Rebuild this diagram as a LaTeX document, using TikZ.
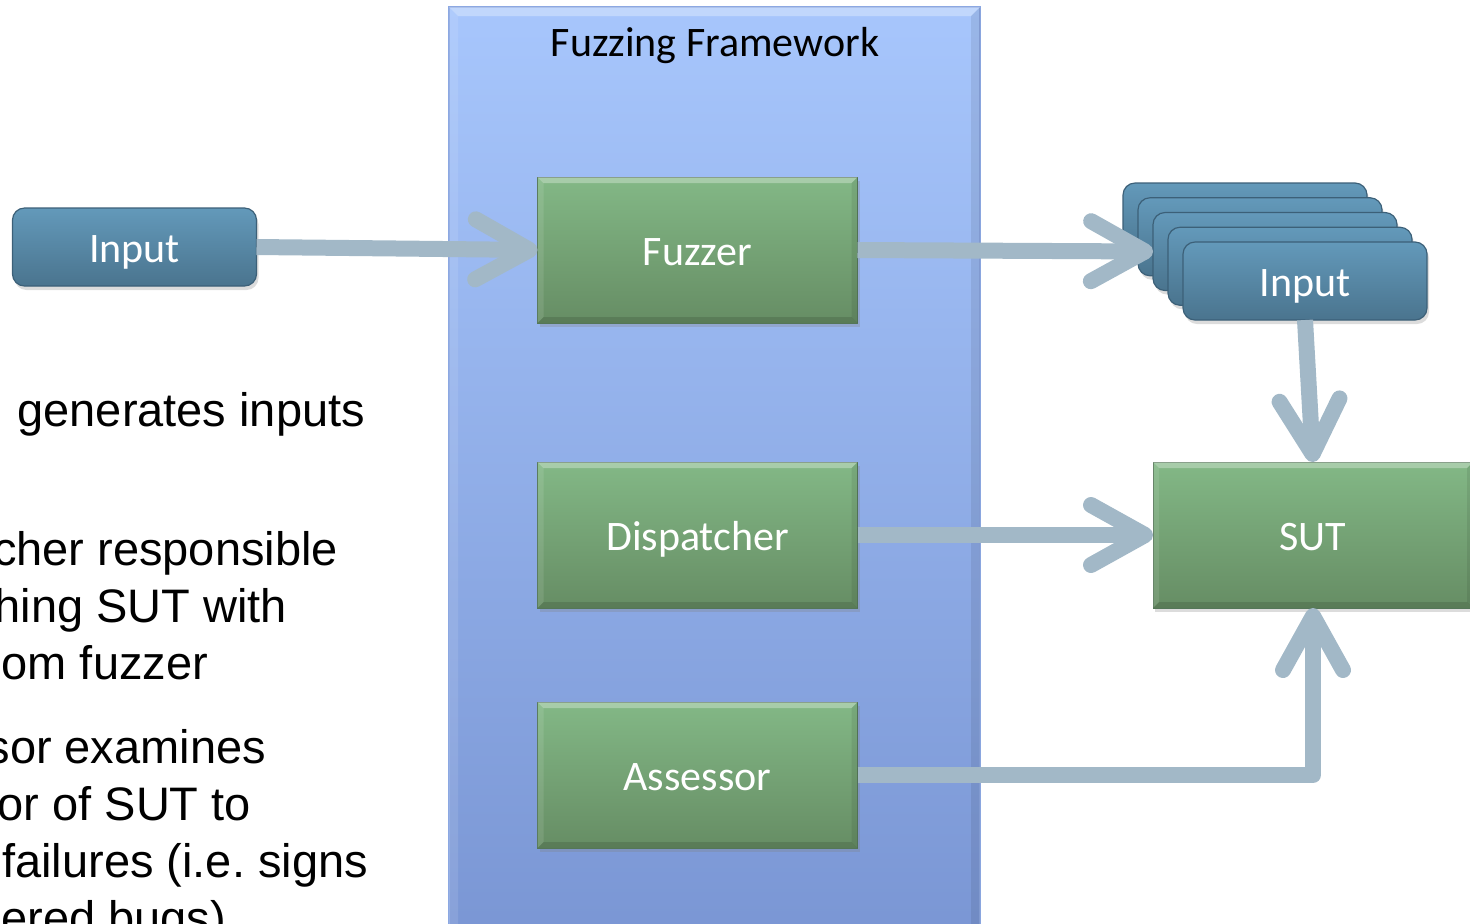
\documentclass[tikz,border=0pt]{standalone}
\usepackage{fontspec}
\setmainfont{Carlito}
\newfontfamily\arialfont{Liberation Sans}
\usetikzlibrary{arrows.meta,calc,shadows}
\frenchspacing

\definecolor{frameTop}{HTML}{A7C6FC}
\definecolor{frameBot}{HTML}{7A96D4}
\definecolor{frameEdge}{HTML}{8CA8E2}
\definecolor{greenTop}{HTML}{83B886}
\definecolor{greenBot}{HTML}{668D64}
\definecolor{greenEdge}{HTML}{56785A}
\definecolor{blueTop}{HTML}{6399BA}
\definecolor{blueBot}{HTML}{4A748E}
\definecolor{blueEdge}{HTML}{3C6078}
\definecolor{arrowc}{HTML}{A2B8C7}

\tikzset{
  every node/.style={inner sep=0pt, outer sep=0pt},
  boxshadow/.style={drop shadow={shadow xshift=1pt, shadow yshift=-2pt, opacity=0.28}},
  labelfont/.style={text=white, font=\fontsize{21}{25}\selectfont,
    text height=15.6pt, text depth=0pt},
  greenbox/.style={boxshadow, minimum width=160pt, minimum height=73pt,
    top color=greenTop, bottom color=greenBot, draw=greenEdge, line width=0.5pt, labelfont},
  bluebox/.style={boxshadow, rounded corners=6pt, minimum width=122pt, minimum height=39pt,
    top color=blueTop, bottom color=blueBot, draw=blueEdge, line width=0.6pt, labelfont},
  framebox/.style={minimum width=265.5pt, minimum height=466.5pt,
    top color=frameTop, bottom color=frameBot, draw=frameEdge, line width=0.6pt},
  flow/.style={draw=arrowc, line width=8pt, line cap=butt, line join=round,
    -{Straight Barb[length=27pt, width=30pt, round]}},
  notes/.style={anchor=base east, font=\arialfont\fontsize{23.5}{28}\selectfont}
}

% bevelled edges: light top/left bands, dark bottom/right bands
\newcommand\bevelbands[2]{%
  \fill[white, opacity=0.30] (#1.north west) -- (#1.north east)
     -- ($(#1.north east)+(-#2,#2)$) -- ($(#1.north west)+(#2,#2)$) -- cycle;
  \fill[white, opacity=0.10] (#1.north west) -- ($(#1.north west)+(#2,#2)$)
     -- ($(#1.south west)+(#2,-#2)$) -- (#1.south west) -- cycle;
  \fill[black, opacity=0.12] (#1.south west) -- (#1.south east)
     -- ($(#1.south east)+(-#2,-#2)$) -- ($(#1.south west)+(#2,-#2)$) -- cycle;
  \fill[black, opacity=0.08] (#1.north east) -- ($(#1.north east)+(-#2,#2)$)
     -- ($(#1.south east)+(-#2,-#2)$) -- (#1.south east) -- cycle;
}

\begin{document}
\begin{tikzpicture}[x=0.5pt, y=-0.5pt]
  \useasboundingbox (0,0) rectangle (1470,923);
  \clip (0,0) rectangle (1470,923);

  % framework container
  \node[framebox] (frame) at (714.5,473.5) {};
  \bevelbands{frame}{9}
  \node[font=\fontsize{21}{25}\selectfont] (title) at (715,46) {Fuzzing Framework};

  % components inside the framework
  \node[greenbox] (fuzzer) at (697.5,250) {Fuzzer};
  \bevelbands{fuzzer}{6}
  \node[greenbox] (disp) at (697.5,535) {Dispatcher};
  \bevelbands{disp}{6}
  \node[greenbox] (assess) at (697.5,775) {Assessor};
  \bevelbands{assess}{6}

  % system under test
  \node[greenbox] (sut) at (1313,535) {SUT};
  \bevelbands{sut}{6}

  % seed input
  \node[bluebox] (seed) at (134.5,247) {Input};

  % stack of generated inputs, back to front
  \node[bluebox] (in1) at (1245,222) {};
  \node[bluebox] (in2) at (1260,236.75) {};
  \node[bluebox] (in3) at (1275,251.5) {};
  \node[bluebox] (in4) at (1290,266.25) {};
  \node[bluebox] (in5) at (1305,281) {Input};

  % data flow
  \draw[flow] (seed.east) -- (fuzzer.west);
  \draw[flow] (fuzzer.east) -- (in3.west);
  \draw[flow] (in5.south) -- (sut.north);
  \draw[flow] (disp.east) -- (sut.west);
  \draw[flow] (assess.east) -| (sut.south);

  % side notes
  \node[notes] (n1) at (365,426) {generates inputs};
  \node[notes] (n2) at (338,565) {cher responsible};
  \node[notes] (n3) at (287,622) {hing SUT with};
  \node[notes] (n4) at (208,679) {om fuzzer};
  \node[notes] (n5) at (266,763) {sor examines};
  \node[notes] (n6) at (251,820) {or of SUT to};
  \node[notes] (n7) at (368,877) {failures (i.e. signs};
  \node[notes] (n8) at (226,934) {ered bugs)};
\end{tikzpicture}
\end{document}
